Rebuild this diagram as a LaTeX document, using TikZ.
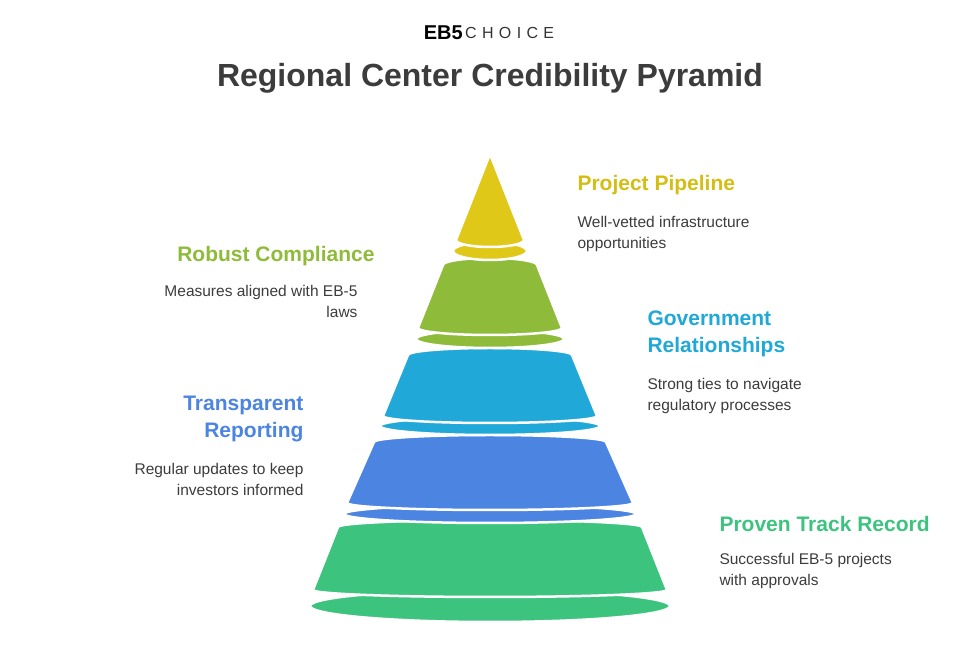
\documentclass[tikz,border=0pt]{standalone}
\usepackage{fontspec}
\setmainfont{Liberation Sans}
\usetikzlibrary{positioning}
\definecolor{tieryel}{HTML}{DFC817}
\definecolor{tiergrn}{HTML}{8FBB3A}
\definecolor{tiercyn}{HTML}{1FA8D8}
\definecolor{tierblu}{HTML}{4C84E2}
\definecolor{tieremr}{HTML}{3CC47F}
\definecolor{txtyel}{HTML}{D4BE14}
\definecolor{bodytxt}{HTML}{3C3C3C}
% one tier: colour, top y, top half width, bottom y, bottom half width, rim y, rim half width
\newcommand{\tier}[7]{%
  \fill[#1, draw=white, line width=2.5pt] (490,#6) ellipse[x radius=#7, y radius=9];
  \fill[#1, draw=white, line width=2.5pt] (490-#3,#2) arc[start angle=180, end angle=0, x radius=#3, y radius=7]
    -- (490+#5,#4) arc[start angle=0, end angle=-180, x radius=#5, y radius=7] -- cycle;
}
\begin{document}
\begin{tikzpicture}[x=1pt, y=1pt,
  head/.style={font=\fontsize{21}{27}\selectfont\bfseries, align=left},
  desc/.style={font=\fontsize{15.5}{21}\selectfont, text=bodytxt, align=left},
]
  \useasboundingbox (0,0) rectangle (980,658);
  % header
  \node[font=\fontsize{32}{38}\selectfont\bfseries, text=bodytxt] (title) at (490,580) {Regional Center Credibility Pyramid};
  \node[font=\fontsize{20}{24}\selectfont\bfseries, text=black, anchor=east, inner sep=1pt] (logoa) at (464,625) {EB5};
  \node[font=\fontsize{16}{20}\selectfont, text=black!80, anchor=west, inner sep=1pt] (logob) at (logoa.east) {C\,\,H\,\,O\,\,I\,\,C\,\,E};
  % pyramid (y = 658 - pixel row)
  \fill[tieremr, draw=white, line width=2.5pt] (490,52) ellipse[x radius=180, y radius=16];
  \fill[tieremr, draw=white, line width=2.5pt] (338,131) arc[start angle=180, end angle=0, x radius=152, y radius=7]
    -- (667,68) arc[start angle=0, end angle=-180, x radius=177, y radius=7] -- cycle;
  \tier{tierblu}{216}{116}{155}{143}{144}{146}
  \tier{tiercyn}{303}{82}{242}{107}{232}{110}
  \tier{tiergrn}{393}{47}{330}{72}{319}{74}
  \fill[tieryel, draw=white, line width=2.5pt] (490,407) ellipse[x radius=37, y radius=9];
  \fill[tieryel, draw=white, line width=2.5pt] (490,504) -- (524,418) arc[start angle=0, end angle=-180, x radius=34, y radius=7] -- cycle;
  % labels right
  \node[head, text=txtyel, anchor=west] (pp) at (574,473) {Project Pipeline};
  \node[desc, below=14pt of pp.south west, anchor=north west] (ppd) {Well-vetted infrastructure\\opportunities};
  \node[head, text=tiercyn, anchor=west] (gr) at (644,324) {Government\\Relationships};
  \node[desc, below=14pt of gr.south west, anchor=north west] (grd) {Strong ties to navigate\\regulatory processes};
  \node[head, text=tieremr, anchor=west] (pt) at (716,134) {Proven Track Record};
  \node[desc, below=14pt of pt.south west, anchor=north west] (ptd) {Successful EB-5 projects\\with approvals};
  % labels left
  \node[head, text=tiergrn, anchor=east] (rc) at (378,402) {Robust Compliance};
  \node[desc, anchor=north east, align=right] (rcd) at (361,376) {Measures aligned with EB-5\\laws};
  \node[head, text=tierblu, anchor=east, align=right] (tr) at (307,239) {Transparent\\Reporting};
  \node[desc, align=right, below=14pt of tr.south east, anchor=north east] (trd) {Regular updates to keep\\investors informed};
\end{tikzpicture}
\end{document}
